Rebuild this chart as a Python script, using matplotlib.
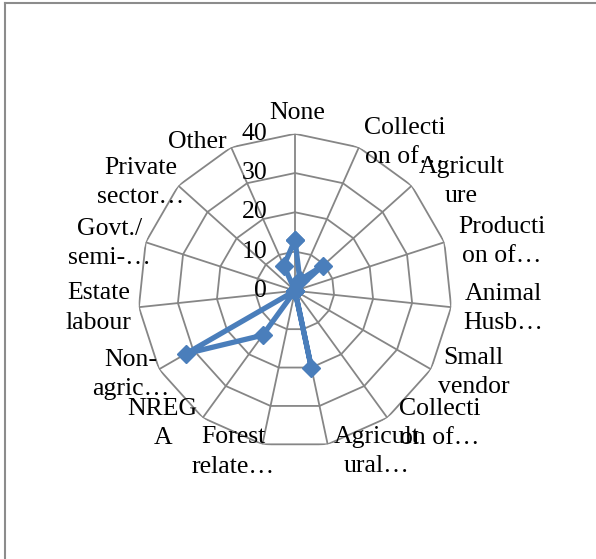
import numpy as np
import matplotlib.pyplot as plt
from matplotlib.lines import Line2D

plt.rcParams['font.family'] = ['Liberation Serif', 'DejaVu Serif']

categories = ["None", "Collecti\non of…", "Agricult\nure", "Producti\non of…",
              "Animal\nHusb…", "Small\nvendor", "Collecti\non of…", "Agricult\nural…",
              "Forest\nrelate…", "NREG\nA", "Non-\nagric…", "Estate\nlabour",
              "Govt./\nsemi-…", "Private\nsector…", "Other"]
values = [13, 3, 9.5, 0, 0, 0, 0, 20, 0, 14, 32, 0, 0, 0, 7]
rings = [0, 10, 20, 30, 40]

# where Excel put each category label (degrees clockwise from top, radius in data units)
label_angles = [0.6, 36.4, 56.7, 76.5, 94.8, 114.6, 132.6, 153, 201, 224.8, 242.9, 265, 284.4, 305, 326.6]
label_radii = [45.4, 47.0, 50.7, 54.1, 53.3, 50.0, 50.1, 45.9, 44.0, 47.8, 47.0, 50.3, 48.8, 48.0, 45.4]

grid_col = "#868686"
line_col = "#4A7EBB"

n = len(categories)
theta = 2 * np.pi * np.arange(n) / n
theta_c = np.append(theta, theta[0])

fig = plt.figure(figsize=(5.96, 5.59), dpi=100)
ax = fig.add_axes([0.2315, 0.199, 0.527, 0.5617], projection='polar')
ax.set_theta_zero_location('N')
ax.set_theta_direction(-1)
ax.set_ylim(0, 40)
ax.set_xticks([])
ax.set_yticks([])
ax.grid(False)
ax.spines['polar'].set_visible(False)
ax.patch.set_visible(False)

# polygon grid + spokes
for r in rings[1:]:
    ax.plot(theta_c, [r] * (n + 1), color=grid_col, lw=1.3, zorder=1)
for t in theta:
    ax.plot([t, t], [0, rings[-1]], color=grid_col, lw=1.3, zorder=1)

# radial value labels
for r in rings:
    ax.annotate(str(r), xy=(0, r), xytext=(-20, 0), textcoords='offset points',
                ha='right', va='center', fontsize=18.5)

# category labels
for lab, a, rr in zip(categories, label_angles, label_radii):
    ax.text(np.deg2rad(a), rr, lab, ha='center', va='center', fontsize=18.5,
            linespacing=1.42, clip_on=False)

vals_c = np.append(values, values[0])
ax.plot(theta_c, vals_c, color=line_col, lw=3.8, marker='D', markersize=9,
        markerfacecolor=line_col, markeredgecolor=line_col, zorder=3, clip_on=False)

# chart area border (top and left edges visible)
fig.add_artist(Line2D([0.009, 1.0], [0.994, 0.994], color="#8c8c8c", lw=1.5))
fig.add_artist(Line2D([0.009, 0.009], [0.0, 0.994], color="#8c8c8c", lw=1.5))

fig.savefig("out.png", dpi=100)
